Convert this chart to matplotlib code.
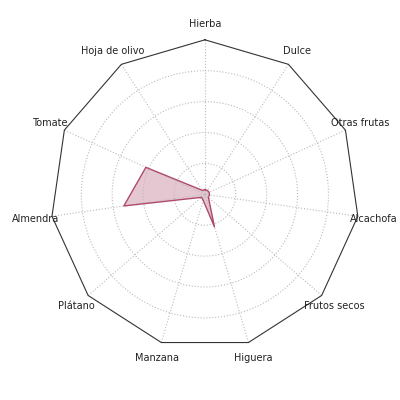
import numpy as np
import matplotlib
matplotlib.use('Agg')
import matplotlib.pyplot as plt

###############################
###          DATA           ###
###############################
categories = ['Hierba', 'Dulce', 'Otras frutas', 'Alcachofa', 'Frutos secos',
              'Higuera', 'Manzana', 'Plátano', 'Almendra', 'Tomate', 'Hoja de olivo']
values = [0.03, 0.03, 0.03, 0.03, 0.03, 0.22, 0.04, 0.03, 0.53, 0.42, 0.03]
ring_ticks = [0.2, 0.4, 0.6, 0.8]

n = len(categories)
angles = np.linspace(0, 2 * np.pi, n, endpoint=False)

###############################
###         FIGURE          ###
###############################
fig = plt.figure(figsize=(4, 4), dpi=100)
ax = fig.add_axes([0.126, 0.128, 0.7725, 0.7725], projection='polar')
ax.set_theta_offset(np.pi / 2)
ax.set_theta_direction(-1)
ax.set_ylim(0, 1)

# polygon frame instead of the circle
ax.spines['polar'].set_visible(False)
frame_t = np.append(angles, angles[0])
ax.plot(frame_t, np.ones(n + 1), color='#333333', lw=0.8, clip_on=False)

# data
vals = np.append(values, values[0])
ax.fill(frame_t, vals, color='#b5607d', alpha=0.35, lw=0)
ax.plot(frame_t, vals, color='#b04a6a', lw=1)

# grid + labels centred just outside the frame
ax.set_xticks(angles)
ax.set_xticklabels([])
ax.set_yticks(ring_ticks)
ax.set_yticklabels([])
ax.grid(True, color='#bbbbbb', linestyle=':', lw=0.8)
for a, lab in zip(angles, categories):
    ax.text(a, 1.105, lab, fontsize=7, ha='center', va='center', color='#222222')

fig.savefig('out.png', dpi=100)
